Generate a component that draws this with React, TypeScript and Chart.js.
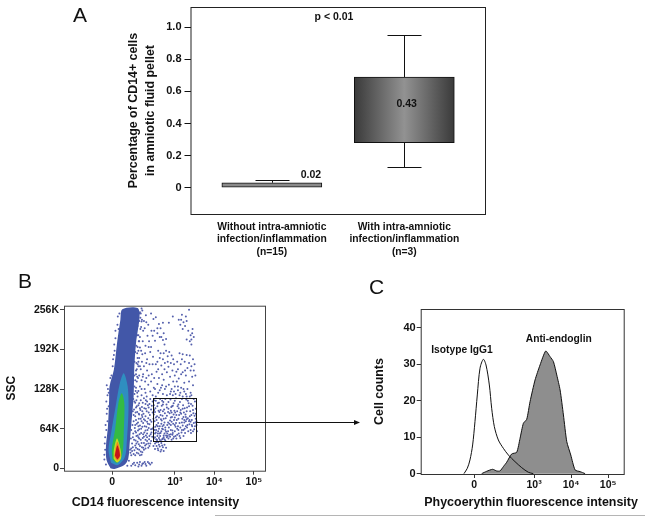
import React, { useEffect, useRef } from "react";
import { Chart, registerables } from "chart.js";

Chart.register(...registerables);

const FONT = "'Liberation Sans', Arial, sans-serif";

// Panel A
const groupPositions = [1, 2];
const groupLabels = [
  ["Without intra-amniotic", "infection/inflammation", "(n=15)"],
  ["With intra-amniotic", "infection/inflammation", "(n=3)"],
];
const boxLow = [0, 0.28];
const boxHigh = [0.03, 0.69];
const whiskerLow = [0, 0.13];
const whiskerHigh = [0.05, 0.95];
const percentTicks = [0, 0.2, 0.4, 0.6, 0.8, 1.0];
const percentNotes: [string, number, number][] = [
  ["p < 0.01", 1.469, 1.066],
  ["0.02", 1.295, 0.08],
  ["0.43", 2.018, 0.523],
];

// Panel B
const cd14Ticks = [1.42, 3, 4, 5];
const decadeLabels = ["0", "10³", "10⁴", "10⁵"];
const ssTicks = [0, 64, 128, 192, 256];
const ssLabels = ["0", "64K", "128K", "192K", "256K"];
const gateX = [2.44, 3.54];
const gateY = [43.6, 114];
const cd14Caption: [string, number, number][] = [["CD14 fluorescence intensity", 2.51, -56]];

const upperDots = [
  [2.1,250],[2.18,255],[2.27,247],[2.22,238],[2.33,232],[2.4,250],[2.46,241],[2.52,244],[2.6,233],[2.64,226],[2.56,218],[2.62,212],[2.72,218],[2.7,207],[2.78,209],[2.44,214],[2.5,206],[2.15,228],[2.08,215],[2.19,205],[2.12,195],[2.26,198],[2.35,205],[2.05,186],[2.1,178],[2.18,184],[2.25,186],[2.3,176],[2.38,188],[2.45,180],[2.06,168],[2.14,160],[2.22,165],[2.3,158],[2.36,168],[2.42,152],[2.1,150],[2.16,142],[2.28,146],[2.04,140],[2.4,140],[2.47,130],[2.56,172],[2.62,178],[2.66,166],[2.72,186],[2.78,190],[2.82,181],[2.86,188],[2.92,182],[2.75,170],[2.84,164],[2.9,170],[2.68,152],[2.8,155],[2.94,158],[2.6,146],[2.54,156],[2.72,143],[2.88,148],[3.0,150],[2.98,168],[3.12,186],[3.2,184],[3.3,183],[3.38,182],[3.15,168],[3.25,172],[3.32,162],[3.42,165],[3.5,168],[3.08,160],[3.2,155],[3.28,150],[3.4,158],[3.44,148],[3.52,150],[3.1,145],[3.36,140],[3.18,248],[3.1,240],[3.14,232],[3.22,236],[3.28,245],[3.3,238],[3.36,256],[3.2,225],[3.34,222],[3.4,215],[3.45,225],[3.38,205],[3.42,200],[3.48,212],[3.3,208],[2.85,235],[2.95,245],[2.65,130],[2.75,128],[2.85,135],[2.92,128],[3.0,132],[3.08,126],[3.16,130],[3.24,124],[3.32,128],[3.4,122],[3.46,134],[2.58,122],[2.7,120],[2.8,118],[2.9,124],[3.02,120],[3.12,118],[3.2,116],[3.28,120],[3.38,116],
  [2.13,243],[2.24,226],[2.31,214],[2.41,222],[2.09,205],[2.17,172],[2.34,196],[2.02,158],[2.2,152],[2.33,135],[2.12,132],[2.24,128],[2.38,124],[2.05,122],[2.16,118],[2.29,116],[2.95,118],[3.05,140],[2.96,140],[3.06,172],[2.7,235],[2.58,190],[2.52,168],[2.48,146],[2.5,128],[2.56,136],[3.24,138],[3.16,152],[3.46,176],
  [2.12,252],[2.16,237],[2.2,222],[2.28,236],[2.06,196],[2.15,190],[2.28,170],[2.08,172],[2.12,165],[2.19,148],[2.25,140],[2.07,146],[2.34,150],[2.26,122],[2.16,128],[2.08,125],[2.02,130],[2.44,118],[2.52,116],[2.62,126],[2.68,134],[2.78,132],[2.88,120],[2.98,124],[3.08,132],[3.14,122],[3.22,128],[3.3,116],[3.42,118],[2.74,160],[2.82,172],[2.96,176],[2.64,186],[2.7,176],[2.58,160],[3.26,158],[3.36,170],[3.48,158],[3.18,176],[3.04,156],[2.56,226],[2.66,212],[2.74,200],[2.48,222],[2.4,196],[2.44,168],[3.16,240],[3.26,230],[3.42,208],[3.44,218],
];
const gateDots = [
  [2.48,110],[2.57,105],[2.63,112],[2.71,107],[2.79,103],[2.89,111],[2.97,105],[3.03,113],[3.13,107],[3.21,102],[3.29,111],[3.35,105],[3.45,101],[3.51,108],
  [2.51,97],[2.59,93],[2.67,101],[2.73,95],[2.83,91],[2.91,99],[2.99,93],[3.07,100],[3.15,94],[3.23,90],[3.31,98],[3.39,92],[3.47,89],[3.53,96],
  [2.47,87],[2.55,84],[2.61,91],[2.69,85],[2.77,81],[2.87,89],[2.93,83],[3.01,90],[3.11,86],[3.19,80],[3.27,87],[3.33,81],[3.43,78],[3.5,85],
  [2.49,76],[2.58,73],[2.65,79],[2.74,74],[2.81,70],[2.88,77],[2.96,72],[3.05,78],[3.12,73],[3.2,69],[3.28,76],[3.37,71],[3.44,68],[3.52,74],
  [2.46,66],[2.53,62],[2.62,68],[2.7,63],[2.78,59],[2.85,66],[2.94,61],[3.02,67],[3.09,62],[3.17,58],[3.25,64],[3.34,60],[3.41,57],[3.49,63],
  [2.5,56],[2.56,52],[2.64,57],[2.72,53],[2.8,50],[2.9,55],[2.98,51],[3.06,54],[3.14,49],[3.22,52],[2.47,48],[2.55,46],[2.6,49],[2.68,47],[2.76,45],[2.84,48],[2.92,46],
  [2.52,109],[2.76,112],[2.93,100],[3.09,103],[3.25,97],[3.41,104],[2.6,82],[2.7,92],[2.84,96],[3.0,82],[3.16,88],[3.3,92],[3.48,73],[2.54,70],[2.66,72],[2.76,66],[2.9,70],[3.03,73],[3.18,74],[3.32,70],[3.46,60],
  [2.58,60],[2.66,60],[2.74,56],[2.83,60],[2.95,57],[3.1,56],[3.26,57],[2.5,50],[2.57,56],[2.63,52],[2.7,48],[2.78,53],[2.88,51],[2.96,48],[2.49,62],[2.6,64],[2.69,68],[2.83,74],[2.98,78],[3.08,68],[3.24,78],[3.38,84],[3.53,80],[3.55,70],[3.56,60],
  [2.55,44],[2.65,44],[2.74,47],[3.04,48],[2.54,78],[2.64,86],[2.72,80],[2.92,90],[3.06,92],[3.22,83],[3.36,76],[3.42,86],
  [2.6,106],[2.68,109],[2.84,107],[3.0,109],[3.18,112],[3.33,109],[3.48,112],[2.56,100],[2.7,103],[2.8,98],[2.95,101],[3.1,97],[3.2,96],[3.36,100],[2.5,91],[2.64,94],[2.75,89],[2.9,93],[3.04,86],[3.14,90],[3.28,83],[3.46,94],[2.52,82],[2.67,77],[2.8,85],[2.9,82],[2.97,87],[3.09,80],[3.24,74],[3.3,79],[3.4,75],[2.57,68],[2.72,70],[2.86,72],[2.92,75],[3.0,70],[3.14,66],[3.22,62],[3.31,66],[3.43,70],[3.51,68],[2.52,58],[2.61,56],[2.68,64],[2.76,62],[2.81,56],[2.9,62],[3.0,60],[3.06,64],[3.18,62],[3.4,62],[2.53,47],[2.62,46],[2.72,50],[2.82,52],[2.86,54],[2.94,54],[3.02,52],[3.12,52],[2.51,67],[2.46,80],[2.48,94],[2.47,102],[3.28,68],[3.37,78],[3.53,88],[3.55,76],
];
const bandDots = [
  [1.98,120],[2.06,116],[2.14,110],[2.22,113],[2.3,108],[2.38,112],[2.0,106],[2.08,102],[2.17,99],[2.26,104],[2.34,98],[2.42,101],[1.97,95],[2.05,91],[2.13,94],[2.21,88],[2.29,92],[2.37,86],[2.44,90],[2.0,84],[2.09,80],[2.18,83],[2.25,77],[2.33,81],[2.41,75],[1.96,76],[2.04,72],[2.12,69],[2.2,73],[2.28,67],[2.36,71],[2.43,64],[1.99,65],[2.07,61],[2.15,64],[2.23,58],[2.31,62],[2.39,55],[1.95,56],[2.03,52],[2.11,55],[2.19,49],[2.27,53],[2.35,47],[2.43,51],[1.97,46],[2.06,43],[2.14,46],[2.22,41],[2.3,44],[2.38,40],[1.92,40],[2.0,37],[2.09,39],[2.17,34],[2.25,37],[2.33,33],[1.9,32],[1.98,29],[2.06,31],[2.14,27],[2.22,30],[1.88,25],[1.96,23],[2.04,25],[2.12,21],
  [1.95,112],[2.02,98],[2.1,87],[2.16,76],[2.24,68],[2.32,72],[2.4,63],[2.02,58],[2.1,48],[2.2,55],[2.3,50],[2.4,44],[1.96,86],[2.08,68],[2.18,92],[2.27,96],[2.36,104],[2.44,108],[2.46,36],
  [2.03,110],[2.1,105],[2.19,106],[2.27,110],[2.04,100],[2.12,97],[2.23,97],[2.32,102],[2.4,95],[2.01,90],[2.09,88],[2.17,86],[2.26,84],[2.34,90],[2.02,78],[2.07,74],[2.14,80],[2.22,79],[2.3,75],[2.38,78],[2.0,70],[2.1,63],[2.18,67],[2.26,61],[2.34,65],[2.41,58],[2.0,60],[2.06,53],[2.15,57],[2.22,51],[2.3,56],[2.36,52],[1.94,50],[2.01,45],[2.08,50],[2.16,41],[2.26,46],[2.33,40],[1.94,34],[2.03,40],[2.12,36],[2.2,33],[2.28,39],[2.36,36],[1.92,28],[2.02,33],[2.1,30],[2.18,26],[2.26,32],[1.9,21],[2.0,21],[2.08,24],[2.16,22],
  // below the gate
  [2.5,40],[2.58,42],[2.66,41],[2.74,38],[2.54,36],[2.62,35],[2.7,34],[2.78,33],[2.5,31],[2.58,29],[2.66,30],[2.72,28],[2.53,42],[2.6,38],[2.68,37],[2.57,32],[2.64,27],
  // near the axis
  [1.94,7],[2.0,5],[2.05,9],[2.1,6],[2.16,4],[2.2,8],[2.26,7],[2.32,10],[2.38,6],[2.42,9],[1.9,4],[2.12,10],[2.28,4],[1.97,9],[2.08,3],[2.18,7],[2.24,10],[2.35,8],
  // column fringe
  [1.3,76],[1.28,88],[1.33,100],[1.3,118],[1.38,126],[1.41,140],[1.37,146],[1.44,176],[1.5,210],[1.55,232],[1.58,225],[1.48,190],[1.98,150],[2.03,170],[2.08,190],[2.1,205],[2.13,225],[2.17,240],[2.06,230],[1.24,50],[1.24,30],[1.22,22],
  [1.27,62],[1.25,70],[1.29,96],[1.27,108],[1.31,128],[1.33,122],[1.4,150],[1.43,165],[1.46,183],[1.47,200],[1.5,222],[1.56,245],[1.6,250],[1.28,134],[1.23,40],[1.22,14],[1.26,6],[1.98,132],[2.0,142],[2.02,152],[2.04,160],[2.06,178],[2.08,165],[2.1,238],[2.14,250],[2.16,258],[2.12,212],[2.05,148],[1.98,172],[2.0,188],[2.03,198],[2.06,215],[2.01,125],[1.98,108],[1.94,92],[1.93,70],[1.9,62],[1.89,48],[1.87,30],[1.84,12],[1.8,4],
];
const denseOutline = [[1.375,0],[1.275,13.4],[1.26,34.9],[1.31,67],[1.34,110],[1.35,132],[1.46,159],[1.54,202],[1.625,240],[1.675,257],[2.06,259],[2.11,245],[2.02,202],[1.975,159],[1.96,115.7],[1.91,78],[1.86,40],[1.825,16],[1.725,5.3],[1.475,-1]];
const tealOutline = [[1.39,9],[1.325,29.6],[1.39,56.5],[1.49,94],[1.61,137],[1.71,153.5],[1.81,132],[1.83,94],[1.79,45.7],[1.74,18.7],[1.56,5.3]];
const greenOutline = [[1.425,14.5],[1.41,32],[1.49,62],[1.575,105],[1.66,121],[1.725,105],[1.71,56.5],[1.69,29.6],[1.625,13.4],[1.52,9]];
const yellowOutline = [[1.455,16],[1.46,30],[1.54,48],[1.63,30],[1.64,16],[1.54,9.5]];
const orangeOutline = [[1.47,19],[1.55,43],[1.63,21],[1.55,12.5]];
const redOutline = [[1.485,21],[1.55,37],[1.615,21],[1.55,14.5]];

// Panel C
const peTicks = [1.386, 3, 4, 5];
const countTicks = [0, 10, 20, 30, 40];
const isotypeCurve = [[1.108,0],[1.198,1.46],[1.27,3.74],[1.342,7.85],[1.405,14.25],[1.468,21.55],[1.541,28.86],[1.631,31.32],[1.703,29.77],[1.793,24.29],[1.856,17.9],[1.928,12.88],[2.036,9.22],[2.171,6.94],[2.306,5.11],[2.486,3.29],[2.667,1.64],[2.847,0.37],[2.98,0]];
const endoglinCurve = [[1.586,0],[1.721,0.64],[1.883,1.19],[1.991,0.73],[2.081,0.73],[2.171,1.92],[2.261,3.11],[2.396,5.39],[2.532,5.84],[2.622,9.68],[2.712,13.79],[2.802,14.88],[2.892,19.73],[3.027,25.66],[3.162,29.77],[3.315,33.6],[3.432,32.05],[3.523,30.68],[3.613,27.03],[3.703,22.92],[3.793,16.07],[3.883,8.77],[3.991,5.11],[4.108,1],[4.243,0.55],[4.378,0]];
const histNotes: [string, number, number][] = [
  ["Isotype IgG1", 1.054, 33.8],
  ["Anti-endoglin", 3.667, 36.7],
];
const peCaption: [string, number, number][] = [["Phycoerythin fluorescence intensity", 2.92, -8]];

const toXY = (pts: number[][]) => pts.map(([x, y]) => ({ x, y }));
const closed = (pts: number[][]) => toXY([...pts, pts[0]]);

const tickFont = (size = 11) => ({ family: FONT, size, weight: "bold" as const });

const framePlugin = (color: string) => ({
  id: "frame",
  afterDatasetsDraw(chart: any) {
    const { ctx, chartArea: a } = chart;
    ctx.save();
    ctx.strokeStyle = color;
    ctx.lineWidth = 1;
    ctx.strokeRect(a.left + 0.5, a.top + 0.5, a.right - a.left, a.bottom - a.top);
    ctx.restore();
  },
});

const notesPlugin = (id: string, notes: [string, number, number][], size: number) => ({
  id,
  afterDatasetsDraw(chart: any) {
    const { ctx, scales } = chart;
    ctx.save();
    ctx.fillStyle = "#111";
    ctx.font = `bold ${size}px ${FONT}`;
    ctx.textAlign = "center";
    ctx.textBaseline = "middle";
    notes.forEach(([t, x, y]) => ctx.fillText(t, scales.x.getPixelForValue(x), scales.y.getPixelForValue(y)));
    ctx.restore();
  },
});

const whiskerPlugin = {
  id: "whiskers",
  afterDatasetsDraw(chart: any) {
    const { ctx, scales } = chart;
    ctx.save();
    ctx.strokeStyle = "#111";
    ctx.lineWidth = 1;
    groupPositions.forEach((g, i) => {
      const x = Math.round(scales.x.getPixelForValue(g)) + 0.5;
      const seg = (from: number, to: number) => {
        if (from === to) return;
        const y0 = scales.y.getPixelForValue(from);
        const y1 = Math.round(scales.y.getPixelForValue(to)) + 0.5;
        ctx.beginPath();
        ctx.moveTo(x, y0);
        ctx.lineTo(x, y1);
        ctx.moveTo(x - 17, y1);
        ctx.lineTo(x + 17, y1);
        ctx.stroke();
      };
      seg(boxHigh[i], whiskerHigh[i]);
      seg(boxLow[i], whiskerLow[i]);
    });
    ctx.restore();
  },
};

const gatePlugin = {
  id: "gate",
  afterDatasetsDraw(chart: any) {
    const { ctx, scales } = chart;
    const x0 = Math.round(scales.x.getPixelForValue(gateX[0])) + 0.5;
    const x1 = Math.round(scales.x.getPixelForValue(gateX[1])) + 0.5;
    const y0 = Math.round(scales.y.getPixelForValue(gateY[1])) + 0.5;
    const y1 = Math.round(scales.y.getPixelForValue(gateY[0])) + 0.5;
    const ay = Math.round((y0 + y1) / 2 + 2) + 0.5;
    ctx.save();
    ctx.strokeStyle = "#111";
    ctx.fillStyle = "#111";
    ctx.lineWidth = 1;
    ctx.strokeRect(x0, y0, x1 - x0, y1 - y0);
    ctx.beginPath();
    ctx.moveTo(x1, ay);
    ctx.lineTo(356, ay);
    ctx.stroke();
    ctx.beginPath();
    ctx.moveTo(360, ay);
    ctx.lineTo(354, ay - 2.5);
    ctx.lineTo(354, ay + 2.5);
    ctx.closePath();
    ctx.fill();
    ctx.restore();
  },
};

const boxFill = (c: any) => {
  const chart = c.chart;
  if (c.dataIndex === 0) return "#8a8a8a";
  const xs = chart.scales?.x;
  if (!xs) return "#666";
  const center = xs.getPixelForValue(groupPositions[c.dataIndex]);
  const g = chart.ctx.createLinearGradient(center - 50, 0, center + 50, 0);
  g.addColorStop(0, "#3a3a3a");
  g.addColorStop(0.5, "#929292");
  g.addColorStop(1, "#3a3a3a");
  return g;
};

const fixedTicks = (values: number[]) => (scale: any) => {
  scale.ticks = values.map((value) => ({ value }));
};

const fitBox = (size: { width?: number; height?: number }) => (s: any) => {
  if (size.width !== undefined) s.width = size.width;
  if (size.height !== undefined) s.height = size.height;
  s.paddingTop = 0;
  s.paddingBottom = 0;
  s.paddingLeft = 0;
  s.paddingRight = 0;
};

export default function App() {
  const a = useRef<HTMLCanvasElement>(null);
  const b = useRef<HTMLCanvasElement>(null);
  const c = useRef<HTMLCanvasElement>(null);

  useEffect(() => {
    const chartA = new Chart(a.current as any, {
      type: "bar",
      data: {
        datasets: [
          {
            data: groupPositions.map((x, i) => ({ x, y: [boxLow[i], boxHigh[i]] })) as any,
            backgroundColor: boxFill as any,
            borderColor: "#111",
            borderWidth: 1,
            borderSkipped: false,
            barThickness: 100,
          } as any,
        ],
      },
      options: {
        animation: false,
        responsive: false,
        layout: { padding: { left: 0, right: 160, top: 7, bottom: 0 } },
        plugins: { legend: { display: false }, tooltip: { enabled: false } },
        scales: {
          x: {
            type: "linear",
            offset: false,
            min: 0.386,
            max: 2.609,
            grid: { display: false, drawTicks: false },
            border: { display: false },
            afterBuildTicks: fixedTicks(groupPositions),
            afterFit: fitBox({ height: 48 }),
            ticks: {
              autoSkip: false,
              maxRotation: 0,
              padding: 7,
              color: "#111",
              font: tickFont(10.3),
              callback: (_v: any, i: number) => groupLabels[i],
            },
          },
          y: {
            min: -0.165,
            max: 1.127,
            grid: { drawOnChartArea: false, drawTicks: true, tickLength: 6, color: "#111" },
            border: { display: false },
            afterBuildTicks: fixedTicks(percentTicks),
            afterFit: fitBox({ width: 190.5 }),
            ticks: {
              padding: 3,
              color: "#111",
              font: tickFont(11),
              callback: (v: any) => (v === 0 ? "0" : Number(v).toFixed(1)),
            },
            title: {
              display: true,
              text: ["Percentage of CD14+ cells", "in amniotic fluid pellet"],
              color: "#111",
              font: { family: FONT, size: 12.4, weight: "bold", lineHeight: 1.35 },
              padding: { top: 125, bottom: 0 },
            },
          },
        },
      } as any,
      plugins: [framePlugin("#222"), whiskerPlugin, notesPlugin("percentNotes", percentNotes, 10.5)],
    });

    const polygon = (pts: number[][], color: string, order: number) => ({
      data: closed(pts),
      showLine: true,
      fill: "shape",
      backgroundColor: color,
      borderColor: color,
      borderWidth: 0,
      pointRadius: 0,
      tension: 0.3,
      order,
    });

    const chartB = new Chart(b.current as any, {
      type: "scatter",
      data: {
        datasets: [
          { data: toXY([...upperDots, ...gateDots, ...bandDots]), pointRadius: 1, pointBorderWidth: 0, pointBackgroundColor: "#5560ad", order: 9 },
          polygon(denseOutline, "#4257a8", 8),
          polygon(tealOutline, "#2f8ec0", 7),
          polygon(greenOutline, "#33bb44", 6),
          polygon(yellowOutline, "#c8d824", 5),
          polygon(orangeOutline, "#f0851e", 4),
          polygon(redOutline, "#c4161c", 3),
        ] as any,
      },
      options: {
        animation: false,
        responsive: false,
        layout: { padding: { left: 0, right: 362 - 265, top: 43.7, bottom: 0 } },
        plugins: { legend: { display: false }, tooltip: { enabled: false } },
        scales: {
          x: {
            type: "linear",
            min: 0.2,
            max: 5.28,
            grid: { drawOnChartArea: false, drawTicks: true, tickLength: 4, color: "#444" },
            border: { display: false },
            afterBuildTicks: fixedTicks(cd14Ticks),
            afterFit: fitBox({ height: 45.3 }),
            ticks: {
              autoSkip: false,
              maxRotation: 0,
              padding: 1,
              color: "#111",
              font: tickFont(10.5),
              callback: (_v: any, i: number) => decadeLabels[i],
            },
          },
          y: {
            min: -3.9,
            max: 262.6,
            grid: { drawOnChartArea: false, drawTicks: true, tickLength: 4, color: "#444" },
            border: { display: false },
            afterBuildTicks: fixedTicks(ssTicks),
            afterFit: fitBox({ width: 64 }),
            ticks: {
              padding: 1,
              color: "#111",
              font: tickFont(10.5),
              callback: (_v: any, i: number) => ssLabels[i],
            },
            title: {
              display: true,
              text: "SSC",
              color: "#111",
              font: { family: FONT, size: 12, weight: "bold" },
              padding: { top: 4, bottom: 0 },
            },
          },
        },
      } as any,
      plugins: [framePlugin("#444"), gatePlugin, notesPlugin("cd14Caption", cd14Caption, 12.5)],
    });

    const chartC = new Chart(c.current as any, {
      type: "scatter",
      data: {
        datasets: [
          { data: toXY(endoglinCurve), showLine: true, fill: "origin", backgroundColor: "#8e8e8e", borderColor: "#111", borderWidth: 1, pointRadius: 0, tension: 0.2, order: 2 },
          { data: toXY(isotypeCurve), showLine: true, fill: false, borderColor: "#111", borderWidth: 1, pointRadius: 0, tension: 0.3, order: 1 },
        ] as any,
      },
      options: {
        animation: false,
        responsive: false,
        layout: { padding: { left: 0, right: 645 - 623.7, top: 47, bottom: 0 } },
        plugins: { legend: { display: false }, tooltip: { enabled: false } },
        scales: {
          x: {
            type: "linear",
            min: -0.06,
            max: 5.42,
            grid: { drawOnChartArea: false, drawTicks: true, tickLength: 4, color: "#333" },
            border: { display: false },
            afterBuildTicks: fixedTicks(peTicks),
            afterFit: fitBox({ height: 42 }),
            ticks: {
              autoSkip: false,
              maxRotation: 0,
              padding: 1,
              color: "#111",
              font: tickFont(10.5),
              callback: (_v: any, i: number) => decadeLabels[i],
            },
          },
          y: {
            min: -0.1,
            max: 45.1,
            grid: { drawOnChartArea: false, drawTicks: true, tickLength: 4, color: "#333" },
            border: { display: false },
            afterBuildTicks: fixedTicks(countTicks),
            afterFit: fitBox({ width: 420.7 - 362 }),
            ticks: {
              padding: 1,
              color: "#111",
              font: tickFont(11),
              callback: (v: any) => String(v),
            },
            title: {
              display: true,
              text: "Cell counts",
              color: "#111",
              font: { family: FONT, size: 12.4, weight: "bold" },
              padding: { top: 10, bottom: 0 },
            },
          },
        },
      } as any,
      plugins: [framePlugin("#333"), notesPlugin("histNotes", histNotes, 10.25), notesPlugin("peCaption", peCaption, 12.45)],
    });

    return () => {
      chartA.destroy();
      chartB.destroy();
      chartC.destroy();
    };
  }, []);

  const letter = (t: string, left: number, top: number) => (
    <div style={{ position: "absolute", left, top, font: `21px ${FONT}`, lineHeight: "24px", color: "#111" }}>{t}</div>
  );

  return (
    <div style={{ position: "absolute", left: 0, top: 0, width: 645, height: 516, overflow: "hidden", background: "#fff" }}>
      <canvas ref={a} width={645} height={262} style={{ position: "absolute", left: 0, top: 0 }} />
      <canvas ref={b} width={362} height={254} style={{ position: "absolute", left: 0, top: 262 }} />
      <canvas ref={c} width={283} height={254} style={{ position: "absolute", left: 362, top: 262 }} />
      {letter("A", 73, 3)}
      {letter("B", 18, 269)}
      {letter("C", 369, 275)}
      <div style={{ position: "absolute", left: 215, top: 515, width: 430, height: 1, background: "#b5b5b5" }} />
    </div>
  );
}
